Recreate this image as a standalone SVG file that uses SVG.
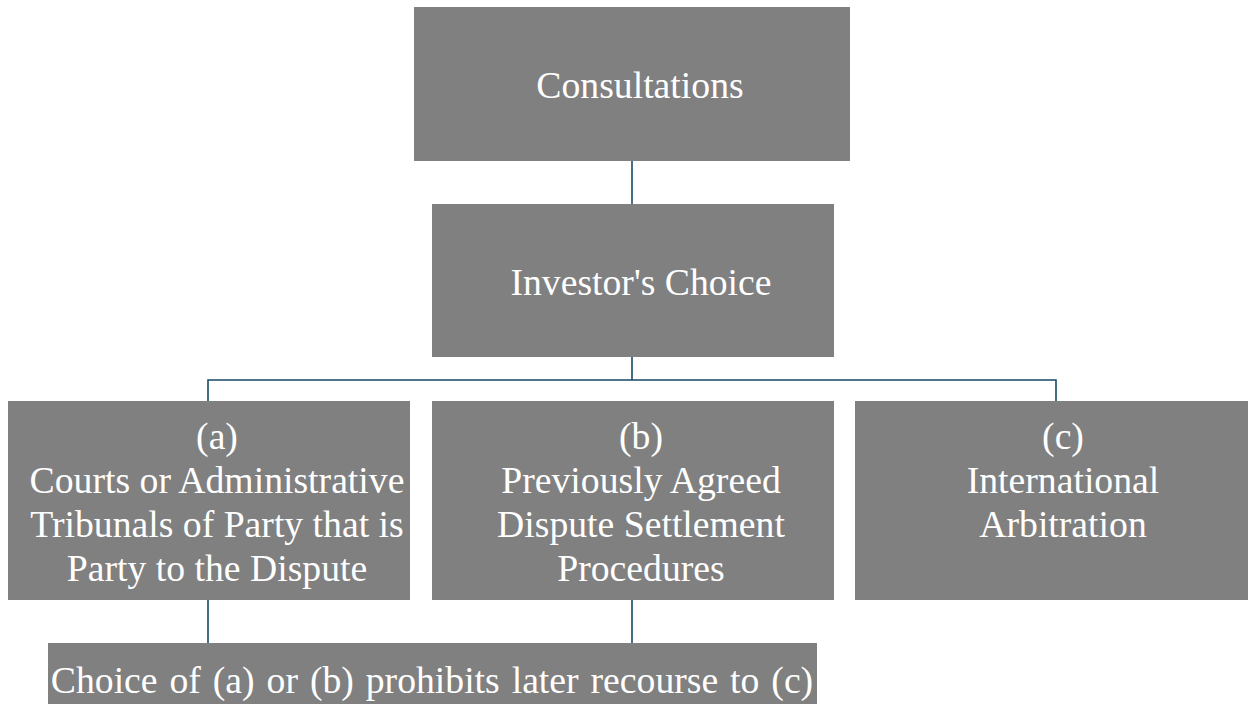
<svg xmlns="http://www.w3.org/2000/svg" width="1248" height="704" viewBox="0 0 1248 704">
<style>
.box{fill:#808080;}
.t{font-family:"Liberation Serif","Times New Roman",serif;font-size:37.7px;fill:#ffffff;text-anchor:middle;}
.c{fill:none;stroke:#174a6a;stroke-width:1.6;}
</style>
<rect width="1248" height="704" fill="#ffffff"/>
<g id="connectors">
<path class="c" d="M632 161V204"/>
<path class="c" d="M632 357V380M208 401V380H1056V401"/>
<path class="c" d="M208 600V643M632 600V643"/>
</g>
<g id="consultations"><rect class="box" x="414" y="7" width="436" height="154"/><text class="t" x="640" y="98">Consultations</text></g>
<g id="investors-choice"><rect class="box" x="432" y="204" width="402" height="153"/><text class="t" x="641" y="295">Investor's Choice</text></g>
<g id="option-a"><rect class="box" x="8" y="401" width="402" height="199"/>
<text class="t" x="217" y="449">(a)</text>
<text class="t" x="217" y="493">Courts or Administrative</text>
<text class="t" x="217" y="537">Tribunals of Party that is</text>
<text class="t" x="217" y="581">Party to the Dispute</text></g>
<g id="option-b"><rect class="box" x="432" y="401" width="402" height="199"/>
<text class="t" x="641" y="449">(b)</text>
<text class="t" x="641" y="493">Previously Agreed</text>
<text class="t" x="641" y="537">Dispute Settlement</text>
<text class="t" x="641" y="581">Procedures</text></g>
<g id="option-c"><rect class="box" x="855" y="401" width="393" height="199"/>
<text class="t" x="1063" y="449">(c)</text>
<text class="t" x="1063" y="493">International</text>
<text class="t" x="1063" y="537">Arbitration</text></g>
<g id="note"><rect class="box" x="48" y="643" width="769" height="61"/>
<text class="t" x="432" y="693" word-spacing="2.5">Choice of (a) or (b) prohibits later recourse to (c)</text></g>
</svg>
